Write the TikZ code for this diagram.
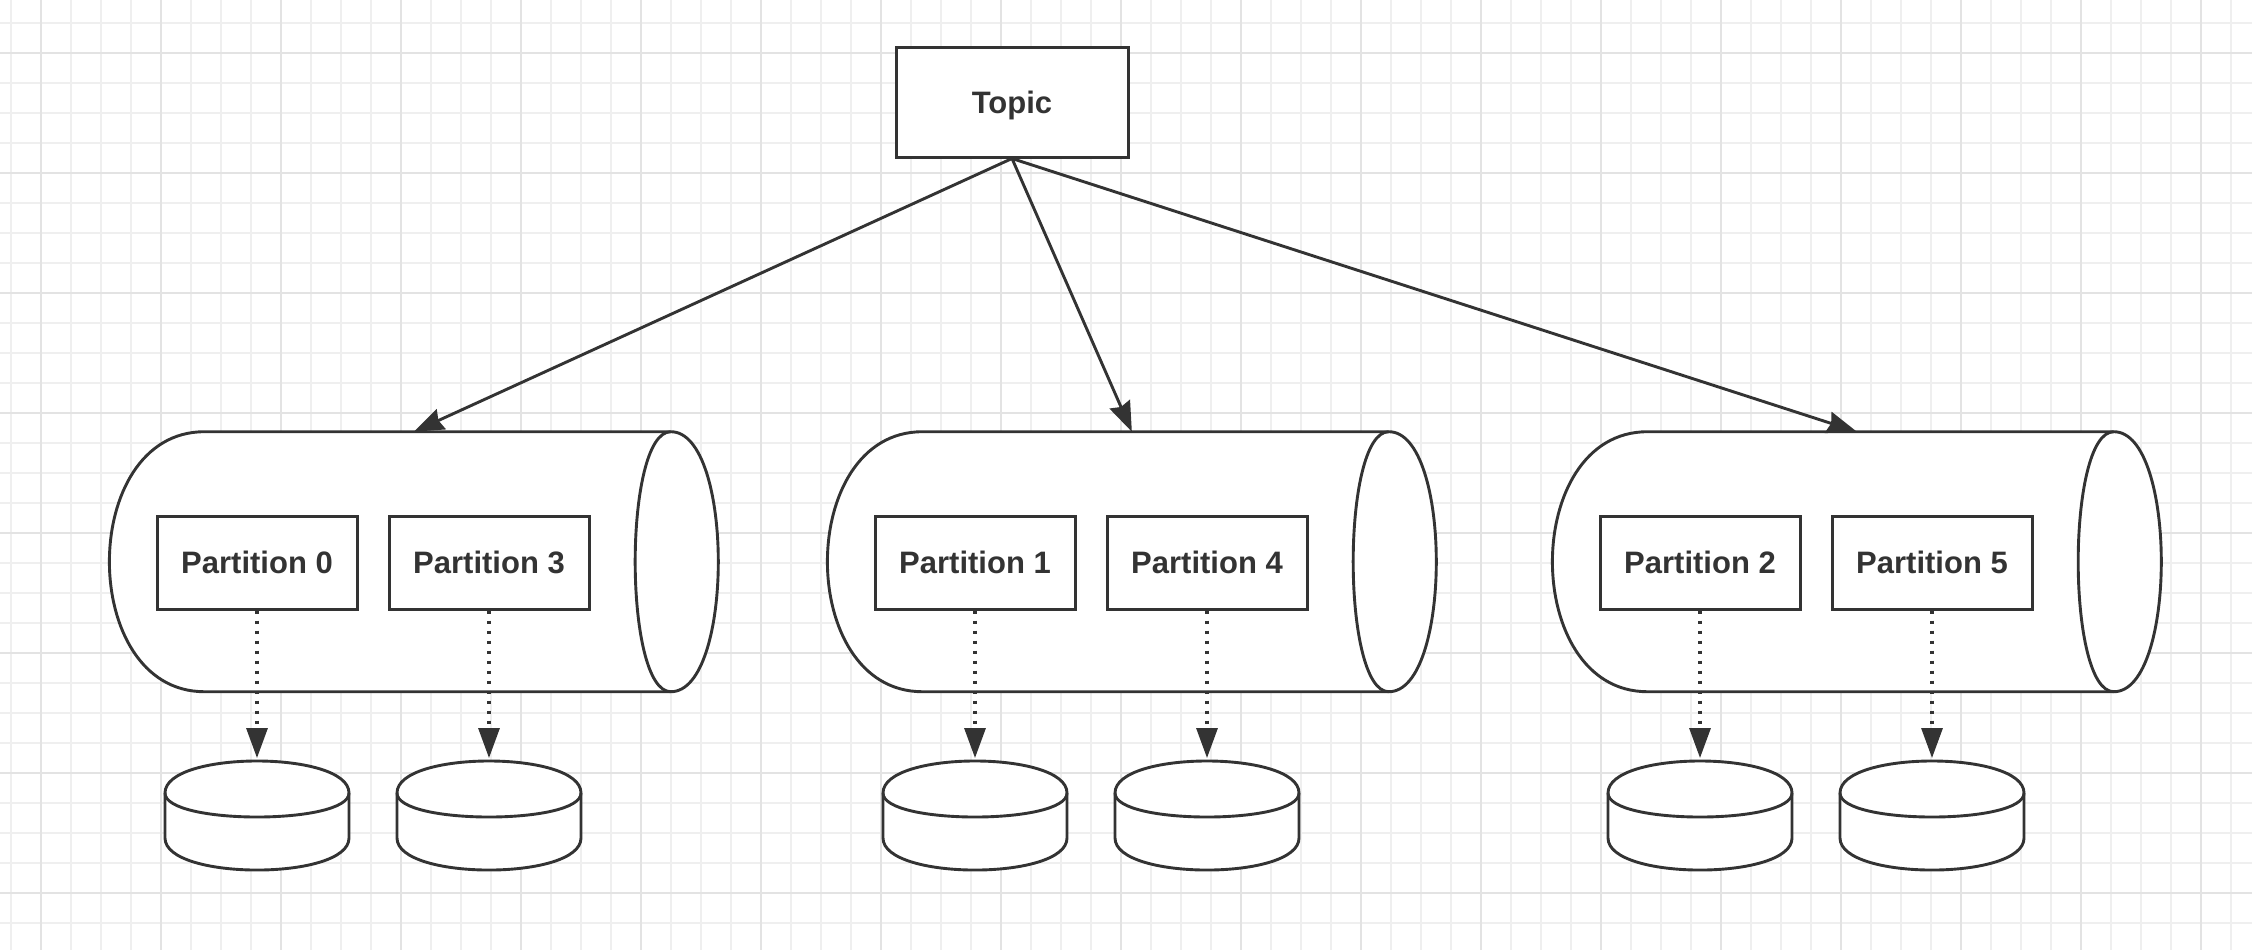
\documentclass[tikz,border=0pt]{standalone}
\usepackage{fontspec}
\setmainfont{Liberation Sans}
\usetikzlibrary{arrows.meta}
\definecolor{ink}{HTML}{333333}
\definecolor{gridminor}{HTML}{EFEFEF}
\definecolor{gridmajor}{HTML}{E3E3E3}
\newcommand\kcyl[3]{%
  \path[shapeline] ({#2-47.5},431.7) .. controls ({#2+15.83},431.7) and ({#2+15.83},691.7) .. ({#2-47.5},691.7)
     -- ({#1+95},691.7) .. controls ({#1-31.67},691.7) and ({#1-31.67},431.7) .. ({#1+95},431.7) -- cycle;
  \draw[shapeline, fill=none] ({#2-47.5},431.7) .. controls ({#2-95},431.7) and ({#2-95},691.7) .. ({#2-47.5},691.7);
  \coordinate (#3) at ({(#1+#2)/2},431.7);
}
\newcommand\kdisk[2]{%
  \path[shapeline] ({#1-92},793) .. controls ({#1-92},750.3) and ({#1+92},750.3) .. ({#1+92},793)
     -- ({#1+92},838) .. controls ({#1+92},880.7) and ({#1-92},880.7) .. ({#1-92},838) -- cycle;
  \draw[shapeline, fill=none] ({#1-92},793) .. controls ({#1-92},825) and ({#1+92},825) .. ({#1+92},793);
  \coordinate (#2) at (#1,761);
}
\begin{document}
\begin{tikzpicture}[x=0.5pt, y=-0.5pt,
  box/.style={draw=ink, fill=white, line width=1.5pt, inner sep=0pt,
    font=\fontsize{15.5pt}{18pt}\selectfont\bfseries, text=ink,
    text height=11.1pt, text depth=0pt},
  topicbox/.style={box, minimum width=116pt, minimum height=55pt},
  partbox/.style={box, minimum width=100pt, minimum height=46.5pt},
  shapeline/.style={draw=ink, fill=white, line width=1.45pt, line join=round},
  mainarrow/.style={draw=ink, line width=1.45pt, -{Stealth[length=15pt, width=11pt, inset=1.5pt]}},
  dotarrow/.style={draw=ink, line width=1.6pt, dash pattern=on 1.7pt off 3.3pt,
    -{Triangle[length=15pt, width=10.5pt]}, shorten >=1.5pt},
]
\useasboundingbox (0,0) rectangle (2252,950);
\fill[white] (0,0) rectangle (2252,950);
% grid
\foreach \k in {0,...,75} { \draw[gridminor, line width=1pt] ({11+30*\k},0) -- ({11+30*\k},950); }
\foreach \k in {0,...,31} { \draw[gridminor, line width=1pt] (0,{22.7+30*\k}) -- (2252,{22.7+30*\k}); }
\foreach \k in {0,...,18} { \draw[gridmajor, line width=1pt] ({41+120*\k},0) -- ({41+120*\k},950); }
\foreach \k in {0,...,7} { \draw[gridmajor, line width=1pt] (0,{52.7+120*\k}) -- (2252,{52.7+120*\k}); }

% topic
\node[topicbox] (topic) at (1012,102) {Topic};

% cylinders (brokers)
\kcyl{109.4}{718.3}{c1}
\kcyl{827.4}{1436.3}{c2}
\kcyl{1552.4}{2161.3}{c3}

% arrows from topic
\draw[mainarrow] (topic.south) -- (c1);
\draw[mainarrow] (topic.south) -- (c2);
\draw[mainarrow] (topic.south) -- (c3);

% partitions
\node[partbox] (p0) at (257,562.5) {Partition 0};
\node[partbox] (p3) at (489,562.5) {Partition 3};
\node[partbox] (p1) at (975,562.5) {Partition 1};
\node[partbox] (p4) at (1207,562.5) {Partition 4};
\node[partbox] (p2) at (1700,562.5) {Partition 2};
\node[partbox] (p5) at (1932,562.5) {Partition 5};

% disks
\kdisk{257}{d0}
\kdisk{489}{d3}
\kdisk{975}{d1}
\kdisk{1207}{d4}
\kdisk{1700}{d2}
\kdisk{1932}{d5}

% dotted arrows
\draw[dotarrow] (p0.south) -- (d0);
\draw[dotarrow] (p3.south) -- (d3);
\draw[dotarrow] (p1.south) -- (d1);
\draw[dotarrow] (p4.south) -- (d4);
\draw[dotarrow] (p2.south) -- (d2);
\draw[dotarrow] (p5.south) -- (d5);
\end{tikzpicture}
\end{document}
